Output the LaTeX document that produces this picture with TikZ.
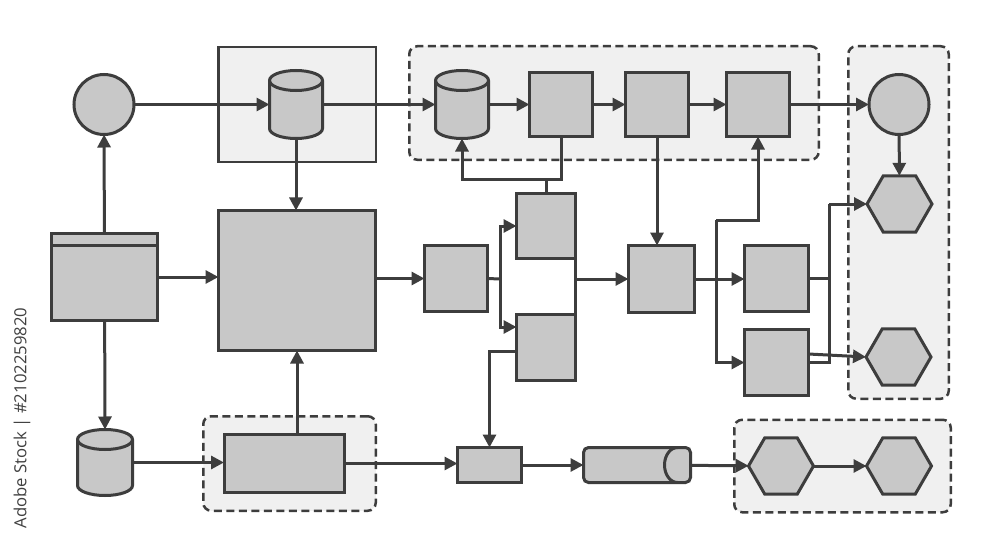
\documentclass[tikz,border=0pt]{standalone}
\usepackage{fontspec}
\usepackage{tikz}
\usetikzlibrary{shapes.geometric,positioning,calc,arrows.meta}
\newfontfamily\stampfont{Open Sans}
\definecolor{flowink}{HTML}{3D3D3D}
\definecolor{flowfill}{HTML}{C8C8C8}
\definecolor{flowpanel}{HTML}{F0F0F0}
\definecolor{flowstamp}{HTML}{404040}
\tikzset{
  flow box/.style={rectangle, draw=flowink, fill=flowfill, line width=0.6mm, inner sep=0pt, outer sep=0pt},
  flow term/.style={circle, draw=flowink, fill=flowfill, line width=0.6mm, minimum size=12mm, inner sep=0pt, outer sep=0pt},
  flow store/.style={rectangle, inner sep=0pt, outer sep=0pt, minimum width=10.6mm, minimum height=13.6mm},
  flow hex/.style={regular polygon, regular polygon sides=6, draw=flowink, fill=flowfill, line width=0.6mm, minimum size=13mm, inner sep=0pt, outer sep=0pt},
  flow panel/.style={rectangle, draw=flowink, fill=flowpanel, line width=0.5mm, inner sep=0pt},
  flow group/.style={flow panel, dash pattern=on 1.6mm off 0.9mm, rounded corners=1.6mm},
  flow line/.style={draw=flowink, line width=0.6mm},
  flow arrow/.style={flow line, -{Triangle[length=2.6mm,width=2.6mm]}}
}

\begin{document}
\begin{tikzpicture}[x=0.2mm, y=-0.2mm]
    \fill [white] (0,0) rectangle (1000,558);
    \useasboundingbox (0,0) rectangle (1000,558);

    % Panels behind the flow
    \node [flow panel, minimum width=31.5mm, minimum height=22.9mm] (SrcPanel) at (297,104.5) {};
    \node [flow group, minimum width=81.9mm, minimum height=22.7mm] (PipePanel) at (614,103) {};
    \node [flow group, minimum width=20.1mm, minimum height=70.5mm] (OutPanel) at (898.5,222.5) {};
    \node [flow group, minimum width=34.5mm, minimum height=18.9mm] (PrepPanel) at (289.5,463.5) {};
    \node [flow group, minimum width=43.3mm, minimum height=18.5mm] (EndPanel) at (842.5,466) {};

    % Top row
    \node [flow term] (Start) at (104,104.5) {};
    \node [flow store] (SrcStore) at (296,104.5) {};
    \node [flow store] (Cache) at (462,104.5) {};
    \node [flow box, minimum width=12.6mm, minimum height=12.8mm, right=8.2mm of Cache] (StepA) {};
    \node [flow box, minimum width=12.6mm, minimum height=12.8mm, right=6.6mm of StepA] (StepB) {};
    \node [flow box, minimum width=12.6mm, minimum height=12.8mm, right=7.6mm of StepB] (StepC) {};
    \node [flow term] (Finish) at (899,104.5) {};
    \node [flow hex] (HexA) at (899.5,204) {};
    \node [flow hex] (HexB) at (898.5,357) {};

    % Middle row
    \node [flow box, minimum width=21.2mm, minimum height=17.4mm] (Form) at (104.5,277) {};
    \draw [flow line] ([yshift=-2.4mm]Form.north west) -- ([yshift=-2.4mm]Form.north east);
    \node [flow box, minimum width=31.4mm, minimum height=28mm] (Core) at (297,280.5) {};
    \node [flow box, minimum width=12.6mm, minimum height=13.2mm] (Gate) at (456,278.5) {};
    \node [flow box, minimum width=11.8mm, minimum height=13mm] (SplitUp) at (546,226) {};
    \node [flow box, minimum width=11.8mm, minimum height=13.2mm] (SplitDown) at (546,347.5) {};
    \node [flow box, minimum width=13.2mm, minimum height=13.4mm] (Merge) at (661.5,279) {};
    \node [flow box, minimum width=12.8mm, minimum height=13.2mm] (OutA) at (776.5,278.5) {};
    \node [flow box, minimum width=12.8mm, minimum height=13.2mm, below=3.6mm of OutA] (OutB) {};

    % Bottom row
    \node [flow store, minimum width=11mm, minimum height=13.2mm] (Archive) at (105,462.5) {};
    \node [flow box, minimum width=24mm, minimum height=11.6mm] (Prep) at (284,463.5) {};
    \node [flow box, minimum width=12.8mm, minimum height=7mm] (Queue) at (489.5,465) {};
    \node [flow box, minimum width=21.4mm, minimum height=7mm, rounded corners=1mm, right=12.4mm of Queue] (Pipe) {};
    \draw [flow line] ([xshift=-2.6mm]Pipe.north east) arc [start angle=90, end angle=270, x radius=2.6mm, y radius=3.5mm];
    \node [flow hex] (HexC) at (781,466) {};
    \node [flow hex] (HexD) at (899,466) {};

    % Drums of the three stores
    \foreach \n/\r in {SrcStore/5.3mm, Cache/5.3mm, Archive/5.5mm} {
      \draw [flow line, fill=flowfill] ([yshift=-2mm]\n.north west) -- ([yshift=2mm]\n.south west)
        arc [start angle=180, end angle=360, x radius=\r, y radius=2mm]
        -- ([yshift=-2mm]\n.north east)
        arc [start angle=0, end angle=180, x radius=\r, y radius=2mm] -- cycle;
      \draw [flow line] ([yshift=-2mm]\n.north west) arc [start angle=180, end angle=360, x radius=\r, y radius=2mm];
    }

    % Side stamp
    \node [rotate=90, text=flowstamp, font=\stampfont\fontsize{9.5}{11}\selectfont] (Stamp) at (22,418) {Adobe Stock | \#2102259820};

    % Bends and joints
    \coordinate (Loop) at (546,179);
    \coordinate (Fork) at (500,279);
    \coordinate (Tap) at (716,220);
    \coordinate (Collect) at (829,204);

    % Connectors, top row
    \draw [flow arrow] (Start.east) -- (Start.east -| SrcStore.west);
    \draw [flow arrow] (SrcStore.east) -- (SrcStore.east -| Cache.west);
    \draw [flow arrow] (Cache.east) -- (Cache.east -| StepA.west);
    \draw [flow arrow] (StepA) -- (StepB);
    \draw [flow arrow] (StepB) -- (StepC);
    \draw [flow arrow] (StepC.east) -- (StepC.east -| Finish.west);
    \draw [flow arrow] (Finish) -- (HexA);
    \draw [flow arrow] (SrcStore.south) -- (SrcStore.south |- Core.north);

    % Connectors, left side
    \draw [flow arrow] (Form) -- (Start);
    \draw [flow arrow] (Form.east) -- (Form.east -| Core.west);
    \draw [flow arrow] (Form) -- (Archive.north);
    \draw [flow arrow] (Archive.east) -- (Archive.east -| Prep.west);
    \draw [flow arrow] (Core.south |- Prep.north) -- (Core.south);

    % Connectors, middle
    \draw [flow arrow] (Core.east |- Gate.west) -- (Gate.west);
    \draw [flow line] (Gate.east) -- (Fork);
    \draw [flow arrow] (Fork) |- (SplitUp.west);
    \draw [flow arrow] (Fork) |- ([yshift=4.1mm]SplitDown.west);
    \draw [flow line] (SplitUp.south east) -- (SplitDown.north east);
    \draw [flow arrow] (SplitUp.east |- Merge.west) -- (Merge.west);
    \draw [flow arrow] (SplitUp.north) -- (Loop) -| (Cache.south);
    \draw [flow line] (StepA.south) |- (Loop);
    \draw [flow arrow] ([yshift=-0.7mm]SplitDown.west) -| (Queue.north);
    \draw [flow arrow] (StepB.south) -- (StepB.south |- Merge.north);
    \draw [flow arrow] (Merge.east) -- (Merge.east -| OutA.west);
    \draw [flow arrow] (Tap) -| (StepC.south);
    \draw [flow arrow] (Tap) |- (OutB.west);

    % Connectors, right side
    \draw [flow line] (OutA.east) -- (OutA.east -| Collect);
    \draw [flow line] (OutB.east) -| (Collect);
    \draw [flow arrow] (Collect) -- (HexA.west);
    \draw [flow arrow] ([yshift=1.7mm]OutB.east) -- (HexB.west);

    % Connectors, bottom row
    \draw [flow arrow] (Prep.east) -- (Prep.east -| Queue.west);
    \draw [flow arrow] (Queue) -- (Pipe);
    \draw [flow arrow] (Pipe) -- (HexC);
    \draw [flow arrow] (HexC) -- (HexD);
\end{tikzpicture}
\end{document}
